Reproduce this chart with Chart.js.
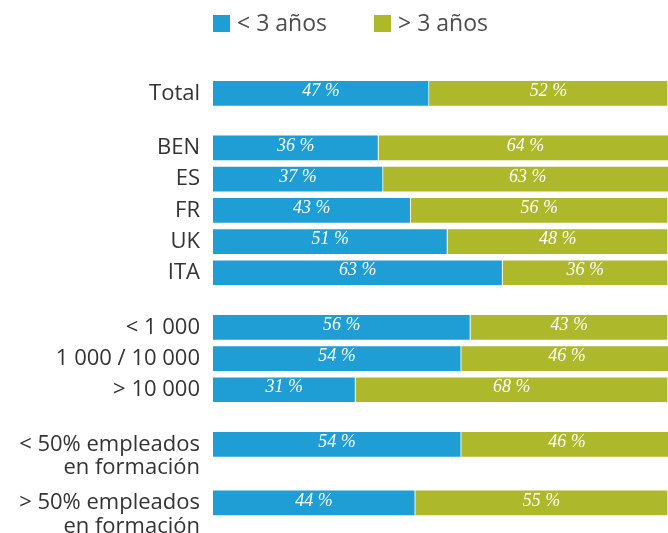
<!DOCTYPE html>
<html lang="es">
<head>
<meta charset="utf-8">
<title>Antigüedad</title>
<script src="https://cdn.jsdelivr.net/npm/chart.js@4.4.1/dist/chart.umd.min.js"></script>
<style>
    body { margin: 0; background: #fff; }
    canvas { display: block; }
</style>
</head>
<body>
<canvas id="grafico" width="668" height="533"></canvas>
<script>
// Datos (porcentajes)
const categorias = ['Total', 'BEN', 'ES', 'FR', 'UK', 'ITA', '< 1 000', '1 000 / 10 000', '> 10 000', '< 50% empleados', '> 50% empleados'];
const segundaLinea = ['', '', '', '', '', '', '', '', '', 'en formación', 'en formación'];
const menosDe3 = [47, 36, 37, 43, 51, 63, 56, 54, 31, 54, 44];
const masDe3 = [52, 64, 63, 56, 48, 36, 43, 46, 68, 46, 55];
const series = ['< 3 años', '> 3 años'];

// Posición de cada fila en "huecos" del eje (8 huecos por fila, separación extra entre grupos)
const filaHueco = [0, 14, 22, 30, 38, 46, 60, 68, 76, 90, 105];
const totalHuecos = 112;

const etiquetasEje = new Array(totalHuecos).fill('');
const datosMenos = new Array(totalHuecos).fill(null);
const datosMas = new Array(totalHuecos).fill(null);
filaHueco.forEach((h, i) => {
    etiquetasEje[h] = categorias[i];
    if (segundaLinea[i]) etiquetasEje[h + 6] = segundaLinea[i];
    datosMenos[h] = menosDe3[i];
    datosMas[h] = masDe3[i];
});

// Porcentajes dentro de las barras
const etiquetasValor = {
    id: 'etiquetasValor',
    afterDatasetsDraw(chart) {
        const ctx = chart.ctx;
        ctx.save();
        ctx.font = 'italic 18px "Liberation Serif"';
        ctx.fillStyle = '#fff';
        ctx.textAlign = 'center';
        ctx.textBaseline = 'middle';
        chart.data.datasets.forEach((ds, i) => {
            chart.getDatasetMeta(i).data.forEach((bar, j) => {
                const v = ds.data[j];
                if (v == null) return;
                const p = bar.getProps(['x', 'base', 'y'], true);
                ctx.fillText(v + ' %', (p.x + p.base) / 2, p.y - 2);
            });
        });
        ctx.restore();
    }
};

// Leyenda arriba, alineada con el inicio de las barras
const leyenda = {
    id: 'leyenda',
    afterDraw(chart) {
        const ctx = chart.ctx;
        const x0 = chart.chartArea.left;
        ctx.save();
        ctx.font = '23px "Open Sans"';
        ctx.textBaseline = 'middle';
        chart.data.datasets.forEach((ds, i) => {
            const x = x0 + i * 161;
            ctx.fillStyle = ds.backgroundColor;
            ctx.fillRect(x, 15, 17, 17);
            ctx.fillStyle = '#4d4d4d';
            ctx.fillText(ds.label, x + 24, 24);
        });
        ctx.restore();
    }
};

const ctx = document.getElementById('grafico').getContext('2d');
new Chart(ctx, {
    type: 'bar',
    data: {
        labels: etiquetasEje,
        datasets: [
            { label: series[0], data: datosMenos, backgroundColor: '#1f9dd5', borderColor: '#ffffff', borderWidth: 1, barThickness: 26, clip: false },
            { label: series[1], data: datosMas, backgroundColor: '#adb82b', borderColor: '#ffffff', borderWidth: 1, barThickness: 26, clip: false }
        ]
    },
    options: {
        indexAxis: 'y',
        responsive: false,
        animation: false,
        layout: { padding: { top: 91.4, bottom: 4.8, left: 0, right: 0 } },
        plugins: {
            legend: { display: false },
            tooltip: { enabled: false }
        },
        scales: {
            x: { stacked: true, min: 0, max: 99, display: false },
            y: {
                stacked: true,
                grid: { display: false, drawTicks: false },
                border: { display: false },
                ticks: {
                    autoSkip: false,
                    padding: 13,
                    color: '#333',
                    font: { family: 'Open Sans', size: 22 }
                },
                afterFit(scale) {
                    scale.width = 213;
                    // sin margen extra por la altura de la primera/última etiqueta
                    scale.paddingTop = 0;
                    scale.paddingBottom = 0;
                }
            }
        }
    },
    plugins: [etiquetasValor, leyenda]
});
</script>
</body>
</html>
